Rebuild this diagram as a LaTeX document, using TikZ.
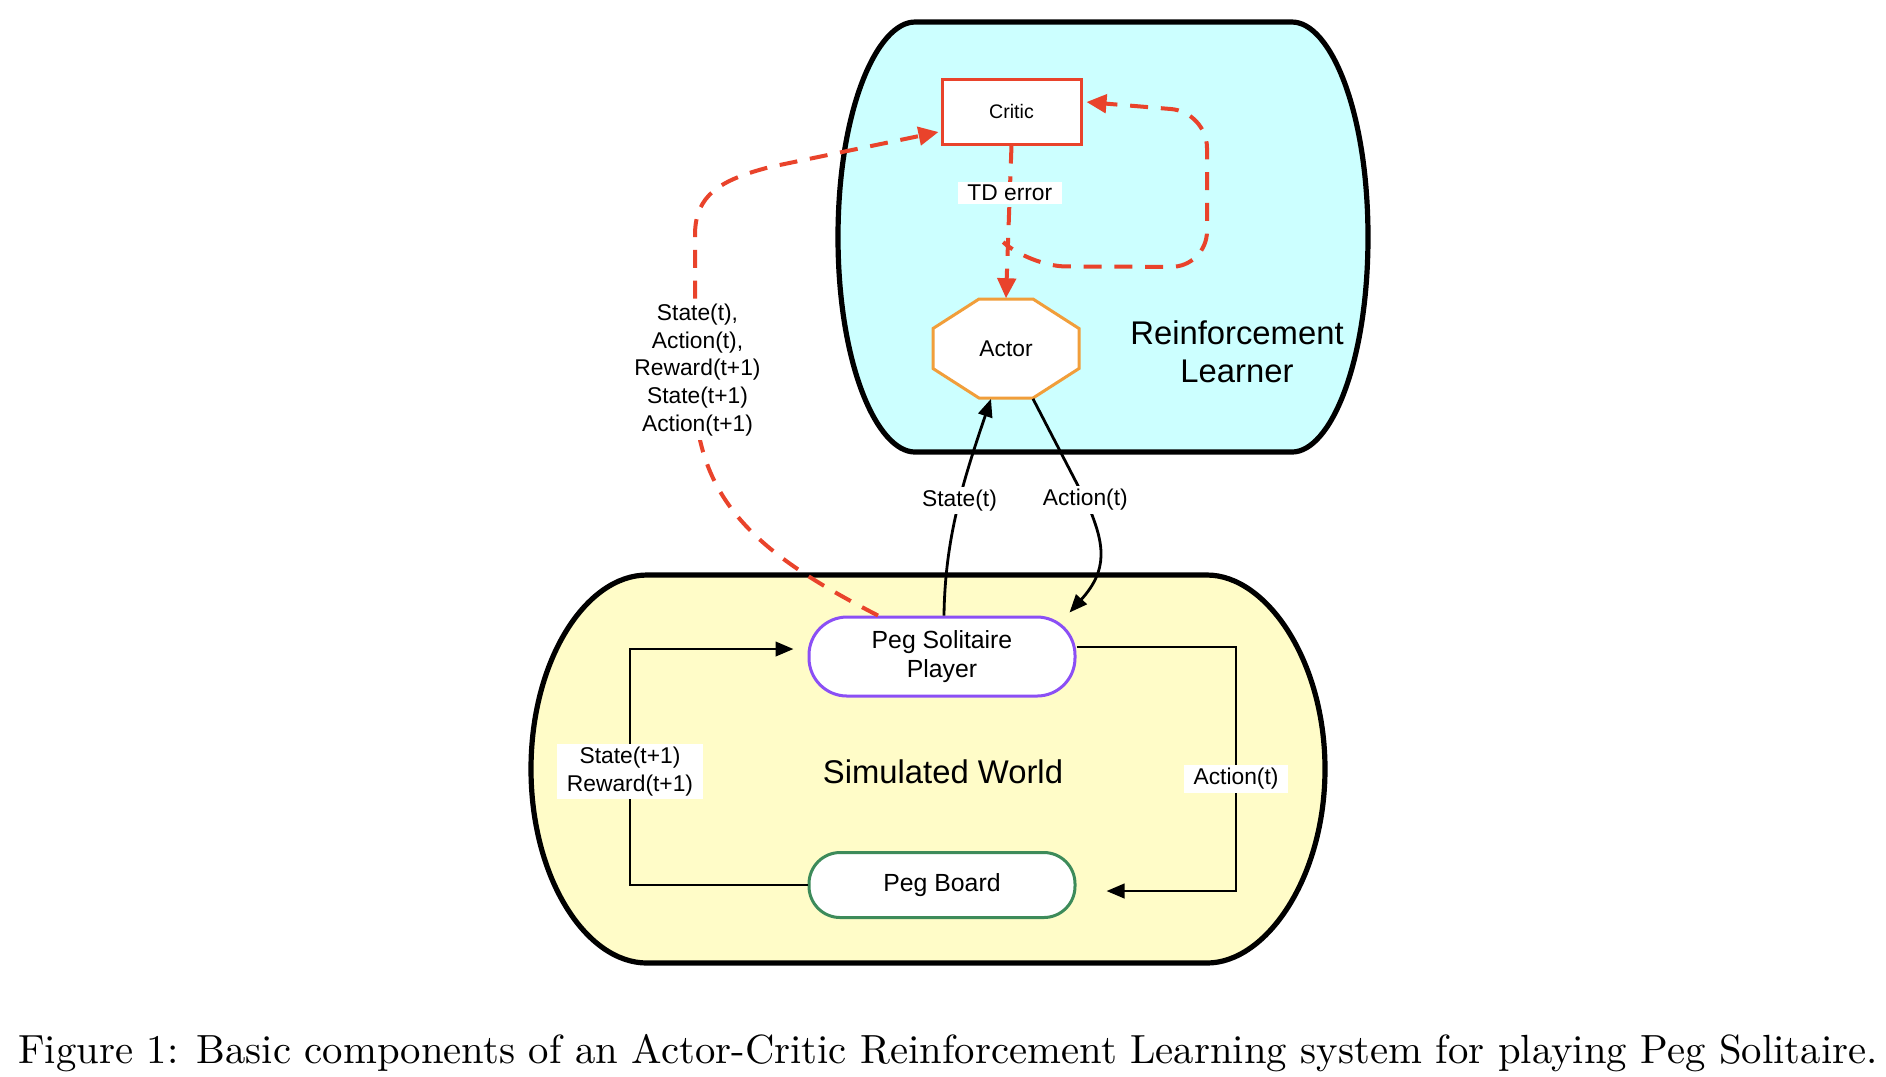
\documentclass[tikz,border=0pt]{standalone}
\usepackage{fontspec}
\newfontfamily\diagfont{Liberation Sans}
\usepackage{tikz}
\usetikzlibrary{arrows.meta,calc}
\usepackage{xcolor}
\definecolor{rlcyan}{RGB}{204,255,255}
\definecolor{swyellow}{RGB}{255,252,200}
\definecolor{critred}{RGB}{233,67,43}
\definecolor{actorange}{RGB}{241,158,58}
\definecolor{playpurple}{RGB}{139,79,245}
\definecolor{boardgreen}{RGB}{61,139,90}

\begin{document}
\begin{tikzpicture}[x=0.25pt,y=-0.25pt,
    container/.style={line width=1.3pt,black},
    critbox/.style={draw=critred,line width=0.75pt,fill=white,minimum width=34.75pt,minimum height=16.25pt,font=\diagfont\fontsize{4.9}{6}\selectfont},
    pegnode/.style={draw,line width=0.75pt,fill=white,minimum width=66.5pt,align=center,font=\diagfont\fontsize{6.2}{7.1}\selectfont},
    lbl/.style={fill=white,text=black,inner xsep=2.4pt,inner ysep=0.8pt,align=center,font=\diagfont\fontsize{5.7}{6.9}\selectfont},
    bigtxt/.style={align=center,font=\diagfont\fontsize{8.2}{9.6}\selectfont},
    flow/.style={line width=0.7pt,-{Triangle[length=4.5pt,width=3.6pt]}},
    tdflow/.style={critred,line width=1pt,dash pattern=on 4.5pt off 3.2pt,-{Triangle[length=5pt,width=4.6pt]}}]
        \useasboundingbox (0,0) rectangle (1886,1076);

        % the two worlds
        \draw[container,fill=rlcyan] (915,22) -- (1292,22) .. controls (1330,22) and (1368,110) .. (1368,237)
            .. controls (1368,364) and (1330,452) .. (1292,452) -- (915,452) .. controls (877,452) and (838,364) .. (838,237)
            .. controls (838,110) and (877,22) .. (915,22) -- cycle;
        \draw[container,fill=swyellow] (647,575) -- (1207,575) .. controls (1266,575) and (1325,660) .. (1325,769)
            .. controls (1325,878) and (1266,963) .. (1207,963) -- (647,963) .. controls (586,963) and (531,878) .. (531,769)
            .. controls (531,660) and (586,575) .. (647,575) -- cycle;

        \node[bigtxt] (rltxt) at (1237,352) {Reinforcement\\Learner};
        \node[bigtxt] (swtxt) at (943,772) {Simulated World};

        % actor octagon
        \coordinate (actc) at (1006,348.5);
        \draw[actorange,line width=0.75pt,fill=white] ($(actc)+(-27,-49.5)$) -- ($(actc)+(27,-49.5)$) -- ($(actc)+(73,-20)$)
            -- ($(actc)+(73,20)$) -- ($(actc)+(27,49.5)$) -- ($(actc)+(-27,49.5)$) -- ($(actc)+(-73,20)$) -- ($(actc)+(-73,-20)$) -- cycle;
        \node[minimum width=36.5pt,minimum height=24.75pt,inner sep=0pt,font=\diagfont\fontsize{5.7}{6.9}\selectfont] (actor) at (actc) {Actor};

        \node[critbox] (critic) at (1011.5,111.5) {Critic};
        \node[pegnode,draw=playpurple,minimum height=19.75pt,rounded corners=9.5pt] (psp) at (942,656.5) {Peg Solitaire\\Player};
        \node[pegnode,draw=boardgreen,minimum height=16.25pt,rounded corners=7.8pt] (pb) at (942,885) {Peg Board};

        % loops inside the world
        \draw[flow] (pb.west) -| node[lbl,pos=0.74]{State(t+1)\\Reward(t+1)} (630,649) -- ($(psp.west)+(-14,-7.5)$);
        \draw[flow] ($(psp.east)+(0,-9.5)$) -| node[lbl,pos=0.77]{Action(t)} (1236,891) -- ($(pb.east)+(30,6)$);

        % player <-> actor
        \draw[flow] ($(psp.north)+(2,0)$) .. controls (945,540) and (962,484) .. node[lbl,pos=0.55]{State(t)} ($(actor.south)+(-15,0)$);
        \draw[flow] ($(actor.south)+(27,0)$) -- node[lbl,pos=0.95]{Action(t)} (1088,505)
            .. controls (1105,545) and (1108,570) .. ($(psp.north east)+(-7,-3)$);

        % critic paths
        \draw[tdflow] ($(psp.north)+(-64,0)$) .. controls (780,565) and (718,520) .. (700,440)
            -- node[lbl,inner ysep=1pt]{State(t),\\Action(t),\\Reward(t+1)\\State(t+1)\\Action(t+1)} (695,300)
            -- (695,235) .. controls (695,195) and (720,180) .. (770,167) -- ($(critic.west)+(-2,20.5)$);
        \draw[tdflow] (critic.south) -- node[lbl,pos=0.31]{TD error} (actor.north);
        \coordinate (tdsplit) at ($(critic.south)!0.66!(actor.north)$);
        \draw[tdflow,rounded corners=9pt] (tdsplit) -- ++(22,20) -- (1207,267) -- (1207,112) -- ($(critic.east)+(4,-9.5)$);

        \node[anchor=base] (caption) at (948,1063) {\fontsize{10.18}{12}\selectfont Figure 1: Basic components of an Actor-Critic Reinforcement Learning system for playing Peg Solitaire.};
\end{tikzpicture}
\end{document}
